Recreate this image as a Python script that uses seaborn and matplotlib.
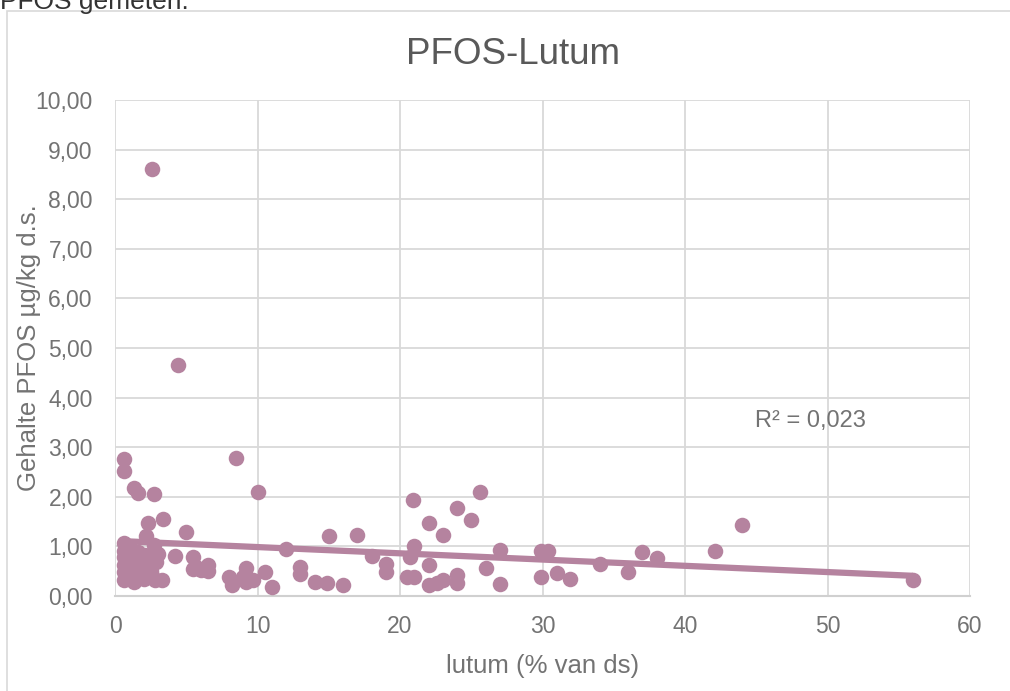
import matplotlib
matplotlib.use('Agg')
import matplotlib.pyplot as plt
import matplotlib.patches as mpatches
from matplotlib.ticker import FuncFormatter, MultipleLocator
import pandas as pd
import seaborn as sns

# lutum (% van ds) en gehalte PFOS (µg/kg d.s.)
lutum = [
    0.6, 0.6, 1.3, 1.6, 2.7, 2.6, 4.4,
    2.3, 3.35, 4.96, 2.2, 0.6, 2.7, 4.2, 5.5, 5.7, 6.5, 6.0, 6.5, 5.5,
    0.6, 0.6, 0.6, 0.6, 0.6, 0.8, 1.0, 1.2, 1.3, 1.4, 1.6, 1.8, 2.0, 2.1,
    2.2, 2.4, 2.6, 2.8, 2.9, 3.0, 3.3, 1.9, 2.5, 1.1,
    8.0, 8.2, 8.5, 9.0, 9.2, 9.2, 9.7, 10.0, 10.5, 11.0, 12.0, 13.0, 13.0,
    14.0, 14.9, 15.0, 16.0, 17.0, 18.0, 19.0, 19.0, 20.5, 21.0, 20.7, 21.0,
    20.9, 22.0, 22.0, 22.0, 23.0, 23.0, 22.6, 24.0, 24.0, 24.0, 25.0, 25.6,
    26.0, 27.0, 27.0, 29.9, 30.4, 29.9, 31.0, 31.9, 34.0, 36.0, 37.0, 38.0,
    42.1, 44.0, 56.0,
]
pfos = [
    2.76, 2.52, 2.18, 2.08, 2.06, 8.60, 4.65,
    1.48, 1.55, 1.28, 1.20, 1.07, 1.03, 0.81, 0.79, 0.59, 0.62, 0.52, 0.50, 0.55,
    0.90, 0.78, 0.62, 0.48, 0.32, 0.85, 0.55, 0.40, 0.28, 0.70, 0.88, 0.45, 0.35, 0.82,
    0.62, 0.72, 0.40, 0.33, 0.68, 0.85, 0.33, 0.60, 0.50, 0.95,
    0.39, 0.22, 2.78, 0.38, 0.56, 0.29, 0.32, 2.10, 0.49, 0.19, 0.94, 0.59, 0.44,
    0.29, 0.26, 1.20, 0.22, 1.23, 0.81, 0.65, 0.49, 0.38, 0.39, 0.79, 1.01,
    1.94, 1.47, 0.63, 0.22, 1.23, 0.32, 0.26, 1.77, 0.42, 0.26, 1.53, 2.10,
    0.56, 0.93, 0.24, 0.91, 0.91, 0.39, 0.47, 0.34, 0.65, 0.49, 0.88, 0.76,
    0.91, 1.43, 0.32,
]
r2_label = 'R² = 0,023'

df = pd.DataFrame({'lutum': lutum, 'pfos': pfos})

sns.set_theme(style='whitegrid')
plt.rcParams['font.family'] = ['Liberation Sans', 'DejaVu Sans']

kleur = '#B5839F'
grijs = '#737373'

fig = plt.figure(figsize=(10.10, 6.91), dpi=100)
ax = fig.add_axes([0.1139, 0.1375, 0.8465, 0.7178])

sns.regplot(data=df, x='lutum', y='pfos', ax=ax, ci=None, color=kleur,
            scatter_kws={'s': 125, 'alpha': 1, 'linewidths': 0, 'zorder': 3},
            line_kws={'lw': 4.5, 'zorder': 2, 'solid_capstyle': 'butt'})

ax.set_xlim(0, 60)
ax.set_ylim(0, 10)
ax.xaxis.set_major_locator(MultipleLocator(10))
ax.yaxis.set_major_locator(MultipleLocator(1))
ax.yaxis.set_major_formatter(FuncFormatter(lambda v, p: f'{v:.2f}'.replace('.', ',')))

ax.grid(True, color='#D9D9D9', lw=1.3)
for s in ['top', 'right', 'left']:
    ax.spines[s].set_visible(False)
ax.spines['bottom'].set_color('#D0D0D0')
ax.spines['bottom'].set_linewidth(1.5)
ax.tick_params(axis='both', length=0, labelsize=16.5, labelcolor=grijs)
ax.tick_params(axis='y', pad=16)
ax.tick_params(axis='x', pad=14)

# titel gecentreerd op het hele diagramkader, niet op het plotgebied
ax.set_title('PFOS-Lutum', fontsize=26.5, color='#595959', pad=26, x=0.4655)
ax.set_xlabel('lutum (% van ds)', fontsize=18.5, color=grijs, labelpad=11)
ax.set_ylabel('Gehalte PFOS µg/kg d.s.', fontsize=18.5, color=grijs, labelpad=-4)

ax.text(44.9, 3.53, r2_label, fontsize=17, color=grijs, ha='left', va='center')

# kader van het diagram en afgesneden tekst erboven
fig.patches.append(mpatches.Rectangle((7 / 1010, -0.1), 1.2, 1 - 11 / 691 + 0.1,
                                      transform=fig.transFigure, fill=False,
                                      edgecolor='#D9D9D9', lw=1.2))
fig.text(0.0, 1 - 9 / 691, 'PFOS gemeten.', fontsize=19, color='#333333',
         ha='left', va='baseline')

fig.savefig('out.png', dpi=100)
